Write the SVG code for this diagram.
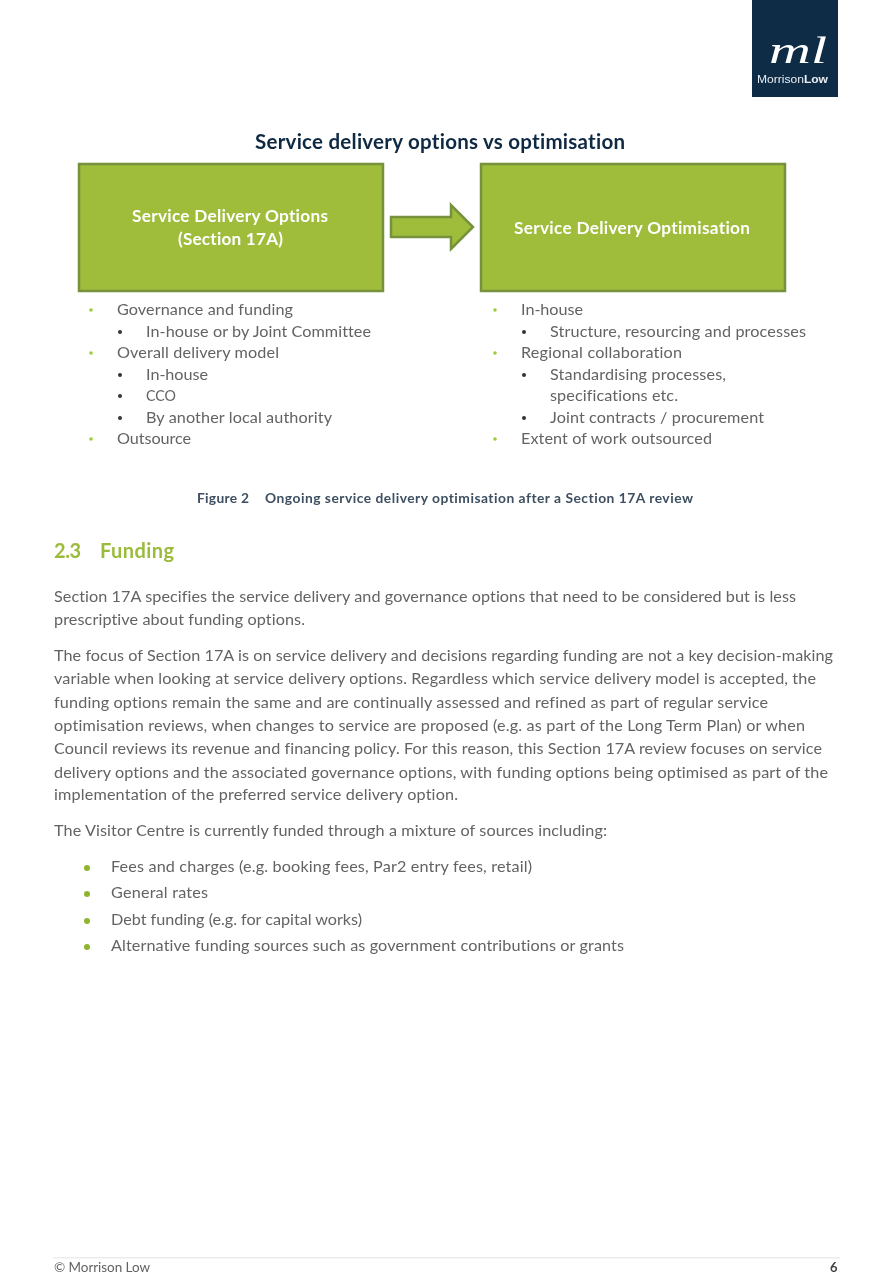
<svg xmlns="http://www.w3.org/2000/svg" width="879" height="1274" viewBox="0 0 879 1274">
<defs><filter id="soft" x="-5%" y="-30%" width="110%" height="160%"><feGaussianBlur stdDeviation="0.3"/></filter></defs>
<style>
text{font-family:Lato,"Open Sans","Liberation Sans",sans-serif;font-variant-ligatures:none;filter:url(#soft)}
.b{font-size:16.2px;fill:#636363}
.t{font-size:20.5px;font-weight:700;fill:#0f2a43}
.w{font-size:17.2px;font-weight:700;fill:#fff}
.c{font-size:13.8px;font-weight:700;fill:#3d4f60}
.h{font-size:20px;font-weight:700;fill:#9bbb3b}
.box{fill:#9fbc3a;stroke:#76923c;stroke-width:2.5}
.g{fill:#9ccb3b}
.k{fill:#333}
.f{fill:#8fb52f}
</style>
<rect width="879" height="1274" fill="#fff"/>
<g id="logo">
<rect x="752" y="0" width="86" height="97" fill="#0f2c47"/>
<text x="769" y="63" textLength="58" lengthAdjust="spacingAndGlyphs" style="font-family:'Liberation Serif',serif;font-style:italic;font-size:38px;fill:#fff">ml</text>
<text x="757" y="83" textLength="71" lengthAdjust="spacingAndGlyphs" style="font-family:'Liberation Sans',sans-serif;font-size:11px;fill:#e8edf2">Morrison<tspan font-weight="700">Low</tspan></text>
</g>
<text class="t" x="255" y="149" textLength="370">Service delivery options vs optimisation</text>
<g id="connectors">
<path d="M391 217H451V205L473 227L451 249V237H391Z" fill="#9fbc3a" stroke="#76923c" stroke-width="2.500"/>
</g>
<g id="node-options">
<rect class="box" x="79" y="164" width="304" height="127"/>
<text class="w" x="132" y="222" textLength="196">Service Delivery Options</text>
<text class="w" x="178" y="245" textLength="105">(Section 17A)</text>
</g>
<g id="node-optimisation">
<rect class="box" x="481" y="164" width="304" height="127"/>
<text class="w" x="514" y="234" textLength="236">Service Delivery Optimisation</text>
</g>
<g id="list-left">
<circle class="g" cx="91" cy="310" r="1.800"/><circle class="k" cx="120" cy="332" r="2"/><circle class="g" cx="91" cy="353" r="1.800"/><circle class="k" cx="120" cy="375" r="2"/><circle class="k" cx="120" cy="396" r="2"/><circle class="k" cx="120" cy="418" r="2"/><circle class="g" cx="91" cy="439" r="1.800"/>
<text class="b" x="117" y="315" textLength="176">Governance and funding</text>
<text class="b" x="146" y="337" textLength="225">In-house or by Joint Committee</text>
<text class="b" x="117" y="358" textLength="162">Overall delivery model</text>
<text class="b" x="146" y="380" textLength="62">In-house</text>
<text class="b" x="146" y="401" textLength="30" lengthAdjust="spacingAndGlyphs">CCO</text>
<text class="b" x="146" y="423" textLength="186">By another local authority</text>
<text class="b" x="117" y="444" textLength="74">Outsource</text>
</g>
<g id="list-right">
<circle class="g" cx="495" cy="310" r="1.800"/><circle class="k" cx="524" cy="332" r="2"/><circle class="g" cx="495" cy="353" r="1.800"/><circle class="k" cx="524" cy="375" r="2"/><circle class="k" cx="524" cy="418" r="2"/><circle class="g" cx="495" cy="439" r="1.800"/>
<text class="b" x="521" y="315" textLength="62">In-house</text>
<text class="b" x="550" y="337" textLength="256">Structure, resourcing and processes</text>
<text class="b" x="521" y="358" textLength="161">Regional collaboration</text>
<text class="b" x="550" y="380" textLength="176">Standardising processes,</text>
<text class="b" x="550" y="401" textLength="128">specifications etc.</text>
<text class="b" x="550" y="423" textLength="214">Joint contracts / procurement</text>
<text class="b" x="521" y="444" textLength="191">Extent of work outsourced</text>
</g>
<text class="c" x="197" y="503" textLength="52">Figure 2</text>
<text class="c" x="265" y="503" textLength="428">Ongoing service delivery optimisation after a Section 17A review</text>
<text class="h" x="54" y="558" textLength="27">2.3</text>
<text class="h" x="100" y="558" textLength="74">Funding</text>
<g id="body">
<text class="b" x="54" y="602" textLength="742">Section 17A specifies the service delivery and governance options that need to be considered but is less</text>
<text class="b" x="54" y="625" textLength="251">prescriptive about funding options.</text>
<text class="b" x="54" y="661" textLength="779">The focus of Section 17A is on service delivery and decisions regarding funding are not a key decision-making</text>
<text class="b" x="54" y="684" textLength="762">variable when looking at service delivery options. Regardless which service delivery model is accepted, the</text>
<text class="b" x="54" y="708" textLength="714">funding options remain the same and are continually assessed and refined as part of regular service</text>
<text class="b" x="54" y="731" textLength="751">optimisation reviews, when changes to service are proposed (e.g. as part of the Long Term Plan) or when</text>
<text class="b" x="54" y="754" textLength="768">Council reviews its revenue and financing policy. For this reason, this Section 17A review focuses on service</text>
<text class="b" x="54" y="778" textLength="774">delivery options and the associated governance options, with funding options being optimised as part of the</text>
<text class="b" x="54" y="800" textLength="404">implementation of the preferred service delivery option.</text>
<text class="b" x="54" y="836" textLength="553">The Visitor Centre is currently funded through a mixture of sources including:</text>
<circle class="f" cx="87" cy="868" r="3"/><circle class="f" cx="87" cy="894" r="3"/><circle class="f" cx="87" cy="921" r="3"/><circle class="f" cx="87" cy="947" r="3"/>
<text class="b" x="111" y="872" textLength="421">Fees and charges (e.g. booking fees, Par2 entry fees, retail)</text>
<text class="b" x="111" y="898" textLength="97">General rates</text>
<text class="b" x="111" y="925" textLength="251">Debt funding (e.g. for capital works)</text>
<text class="b" x="111" y="951" textLength="513">Alternative funding sources such as government contributions or grants</text>
</g>
<g id="footer">
<rect x="53" y="1257" width="787" height="1.500" fill="#ececec"/>
<text class="b" x="54" y="1272" textLength="96" style="font-size:13.5px">© Morrison Low</text>
<text x="830" y="1272" style="font-size:13px;font-weight:700;fill:#404040">6</text>
</g>
</svg>
